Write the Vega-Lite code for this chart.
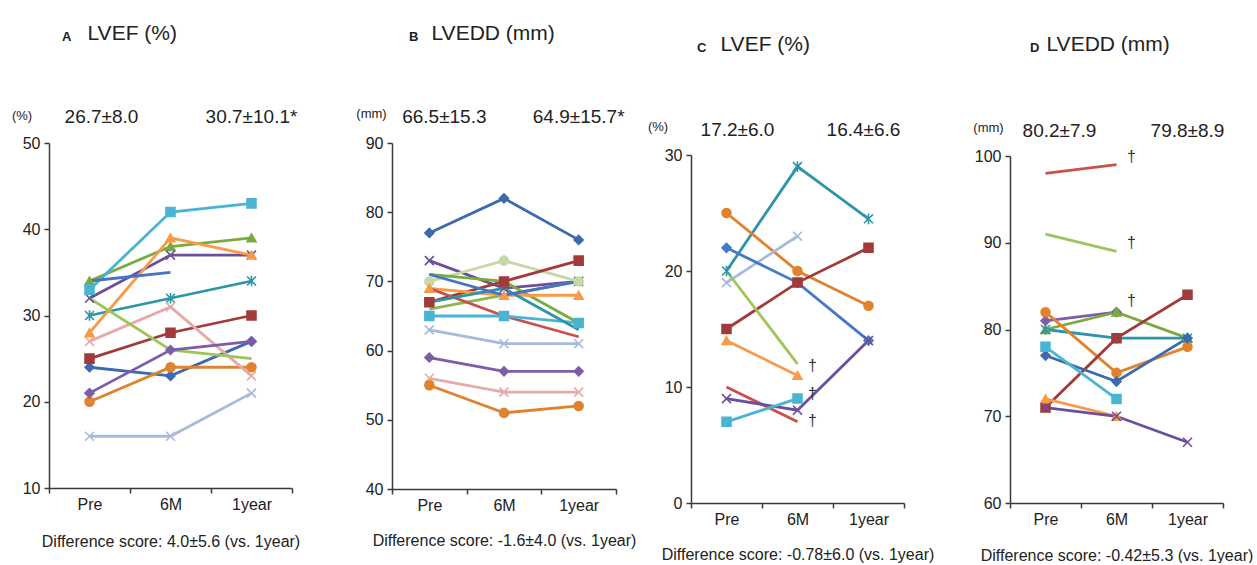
{
  "$schema": "https://vega.github.io/schema/vega-lite/v6.json",
  "padding": {"left": 11, "top": 22, "right": 0, "bottom": 0},
  "background": "white",
  "config": {
    "view": {"stroke": null},
    "font": "Liberation Sans, sans-serif",
    "axis": {
      "grid": false,
      "domainColor": "#3a3a3a",
      "domainWidth": 1.5,
      "tickColor": "#3a3a3a",
      "tickWidth": 1.5,
      "tickSize": 5,
      "labelFont": "Liberation Sans, sans-serif",
      "labelFontSize": 16,
      "labelColor": "#222222",
      "labelFlush": false,
      "labelOverlap": false,
      "labelBound": false,
      "titleFont": "Liberation Sans, sans-serif",
      "titleFontWeight": "normal",
      "titleColor": "#222222"
    },
    "title": {"color": "#222222"}
  },
  "datasets": {
    "A": [
      {"s":"A1","t":"Pre","v":24},{"s":"A1","t":"6M","v":23},{"s":"A1","t":"1year","v":27},
      {"s":"A2","t":"Pre","v":25},{"s":"A2","t":"6M","v":28},{"s":"A2","t":"1year","v":30},
      {"s":"A3","t":"Pre","v":34},{"s":"A3","t":"6M","v":38},{"s":"A3","t":"1year","v":39},
      {"s":"A4","t":"Pre","v":32},{"s":"A4","t":"6M","v":37},{"s":"A4","t":"1year","v":37},
      {"s":"A5","t":"Pre","v":30},{"s":"A5","t":"6M","v":32},{"s":"A5","t":"1year","v":34},
      {"s":"A6","t":"Pre","v":20},{"s":"A6","t":"6M","v":24},{"s":"A6","t":"1year","v":24},
      {"s":"A7","t":"Pre","v":33},{"s":"A7","t":"6M","v":42},{"s":"A7","t":"1year","v":43},
      {"s":"A8","t":"Pre","v":28},{"s":"A8","t":"6M","v":39},{"s":"A8","t":"1year","v":37},
      {"s":"A9","t":"Pre","v":16},{"s":"A9","t":"6M","v":16},{"s":"A9","t":"1year","v":21},
      {"s":"A10","t":"Pre","v":27},{"s":"A10","t":"6M","v":31},{"s":"A10","t":"1year","v":23},
      {"s":"A11","t":"Pre","v":32},{"s":"A11","t":"6M","v":26},{"s":"A11","t":"1year","v":25},
      {"s":"A12","t":"Pre","v":21},{"s":"A12","t":"6M","v":26},{"s":"A12","t":"1year","v":27},
      {"s":"A13","t":"Pre","v":34},{"s":"A13","t":"6M","v":35}
    ],
    "B": [
      {"s":"B1","t":"Pre","v":77},{"s":"B1","t":"6M","v":82},{"s":"B1","t":"1year","v":76},
      {"s":"B2","t":"Pre","v":73},{"s":"B2","t":"6M","v":69},{"s":"B2","t":"1year","v":70},
      {"s":"B3","t":"Pre","v":70},{"s":"B3","t":"6M","v":73},{"s":"B3","t":"1year","v":70},
      {"s":"B4","t":"Pre","v":67},{"s":"B4","t":"6M","v":70},{"s":"B4","t":"1year","v":73},
      {"s":"B5","t":"Pre","v":71},{"s":"B5","t":"6M","v":70},{"s":"B5","t":"1year","v":64},
      {"s":"B6","t":"Pre","v":66},{"s":"B6","t":"6M","v":68},{"s":"B6","t":"1year","v":70},
      {"s":"B7","t":"Pre","v":69},{"s":"B7","t":"6M","v":68},{"s":"B7","t":"1year","v":68},
      {"s":"B8","t":"Pre","v":69},{"s":"B8","t":"6M","v":65},{"s":"B8","t":"1year","v":62},
      {"s":"B9","t":"Pre","v":65},{"s":"B9","t":"6M","v":65},{"s":"B9","t":"1year","v":64},
      {"s":"B10","t":"Pre","v":67},{"s":"B10","t":"6M","v":69},{"s":"B10","t":"1year","v":63},
      {"s":"B11","t":"Pre","v":71},{"s":"B11","t":"6M","v":68},{"s":"B11","t":"1year","v":70},
      {"s":"B12","t":"Pre","v":63},{"s":"B12","t":"6M","v":61},{"s":"B12","t":"1year","v":61},
      {"s":"B13","t":"Pre","v":59},{"s":"B13","t":"6M","v":57},{"s":"B13","t":"1year","v":57},
      {"s":"B14","t":"Pre","v":56},{"s":"B14","t":"6M","v":54},{"s":"B14","t":"1year","v":54},
      {"s":"B15","t":"Pre","v":55},{"s":"B15","t":"6M","v":51},{"s":"B15","t":"1year","v":52}
    ],
    "C": [
      {"s":"C1","t":"Pre","v":20},{"s":"C1","t":"6M","v":29},{"s":"C1","t":"1year","v":24.5},
      {"s":"C2","t":"Pre","v":25},{"s":"C2","t":"6M","v":20},{"s":"C2","t":"1year","v":17},
      {"s":"C3","t":"Pre","v":19},{"s":"C3","t":"6M","v":23},
      {"s":"C4","t":"Pre","v":22},{"s":"C4","t":"6M","v":19},{"s":"C4","t":"1year","v":14},
      {"s":"C5","t":"Pre","v":15},{"s":"C5","t":"6M","v":19},{"s":"C5","t":"1year","v":22},
      {"s":"C6","t":"Pre","v":20},{"s":"C6","t":"6M","v":12},
      {"s":"C7","t":"Pre","v":14},{"s":"C7","t":"6M","v":11},
      {"s":"C8","t":"Pre","v":10},{"s":"C8","t":"6M","v":7},
      {"s":"C9","t":"Pre","v":9},{"s":"C9","t":"6M","v":8},{"s":"C9","t":"1year","v":14},
      {"s":"C10","t":"Pre","v":7},{"s":"C10","t":"6M","v":9}
    ],
    "D": [
      {"s":"D1","t":"Pre","v":98},{"s":"D1","t":"6M","v":99},
      {"s":"D2","t":"Pre","v":91},{"s":"D2","t":"6M","v":89},
      {"s":"D3","t":"Pre","v":81},{"s":"D3","t":"6M","v":82},
      {"s":"D4","t":"Pre","v":80},{"s":"D4","t":"6M","v":82},{"s":"D4","t":"1year","v":79},
      {"s":"D5","t":"Pre","v":80},{"s":"D5","t":"6M","v":79},{"s":"D5","t":"1year","v":79},
      {"s":"D6","t":"Pre","v":82},{"s":"D6","t":"6M","v":75},{"s":"D6","t":"1year","v":78},
      {"s":"D7","t":"Pre","v":71},{"s":"D7","t":"6M","v":79},{"s":"D7","t":"1year","v":84},
      {"s":"D8","t":"Pre","v":77},{"s":"D8","t":"6M","v":74},{"s":"D8","t":"1year","v":79},
      {"s":"D9","t":"Pre","v":78},{"s":"D9","t":"6M","v":72},
      {"s":"D10","t":"Pre","v":72},{"s":"D10","t":"6M","v":70},
      {"s":"D11","t":"Pre","v":71},{"s":"D11","t":"6M","v":70},{"s":"D11","t":"1year","v":67}
    ],
    "Cd": [
      {"t":"6M","v":11.8,"txt":"†"},{"t":"6M","v":9.4,"txt":"†"},{"t":"6M","v":7.1,"txt":"†"}
    ],
    "Dd": [
      {"t":"6M","v":99.9,"txt":"†"},{"t":"6M","v":90,"txt":"†"},{"t":"6M","v":83.3,"txt":"†"}
    ]
  },
  "spacing": 75,
  "bounds": "flush",
  "resolve": {"scale": {"color": "independent", "stroke": "independent", "shape": "independent"}},
  "hconcat": [
    {
      "width": 268, "height": 345,
      "title": {"text": "A", "anchor": "start", "frame": "group", "dx": 13, "offset": -32, "baseline": "alphabetic", "fontSize": 13, "fontWeight": "bold", "font": "Liberation Sans, sans-serif"},
      "resolve": {"axis": {"x": "independent"}},
      "layer": [
        {
          "data": {"name": "A"},
          "mark": {"type": "line", "strokeWidth": 2.8},
          "encoding": {
            "x": {"field": "t", "type": "ordinal", "sort": ["Pre","6M","1year"], "scale": {"type": "band", "paddingInner": 0, "paddingOuter": 0, "range": [0, 243]},
              "axis": {"orient": "bottom", "tickBand": "extent", "labelAngle": 0, "labelPadding": 3, "title": "Difference score: 4.0±5.6 (vs. 1year)", "titleFontSize": 16, "titlePadding": 21}},
            "y": {"field": "v", "type": "quantitative", "scale": {"domain": [10, 50], "nice": false, "zero": false},
              "axis": {"values": [10,20,30,40,50], "labelPadding": 4, "title": "(%)", "titleAngle": 0, "titleFontSize": 13, "titleX": -27.5, "titleY": -28, "titleAlign": "center", "titleBaseline": "middle"}},
            "color": {"field": "s", "type": "nominal", "legend": null, "scale": {"domain": ["A1","A2","A3","A4","A5","A6","A7","A8","A9","A10","A11","A12","A13"], "range": ["#3C69AF","#A33A3A","#7BAA3E","#6B4E9D","#2C96A8","#E0822E","#4AB4D3","#F89B48","#A8B9DC","#E5AAA9","#9DC55A","#7E5CAA","#4574C3"]}}
          }
        },
        {
          "data": {"name": "A"},
          "mark": {"type": "point", "filled": true, "size": 80, "strokeWidth": 1.6, "opacity": 1},
          "encoding": {
            "x": {"field": "t", "type": "ordinal", "sort": ["Pre","6M","1year"],
              "axis": {"orient": "top", "domain": false, "ticks": false, "labelAngle": 0, "labelFontSize": 19, "labelPadding": 17,
                "labelOffset": {"condition": {"test": "datum.value == 'Pre'", "value": 12}, "value": 0},
                "labelExpr": "datum.value == 'Pre' ? '26.7±8.0' : datum.value == '1year' ? '30.7±10.1*' : ''",
                "title": "LVEF (%)", "titleFont": "Liberation Sans, sans-serif", "titleFontSize": 21, "titleX": 38, "titleY": -104, "titleAlign": "left", "titleBaseline": "alphabetic"}},
            "y": {"field": "v", "type": "quantitative"},
            "color": {"field": "s", "type": "nominal", "legend": null, "scale": {"domain": ["A1","A2","A3","A4","A5","A6","A7","A8","A9","A10","A11","A12","A13"], "range": ["#3C69AF","#A33A3A","#7BAA3E","#6B4E9D","#2C96A8","#E0822E","#4AB4D3","#F89B48","#A8B9DC","#E5AAA9","#9DC55A","#7E5CAA","#4574C3"]}},
            "stroke": {"field": "s", "type": "nominal", "legend": null, "scale": {"domain": ["A1","A2","A3","A4","A5","A6","A7","A8","A9","A10","A11","A12","A13"], "range": ["#3C69AF","#A33A3A","#7BAA3E","#6B4E9D","#2C96A8","#E0822E","#4AB4D3","#F89B48","#A8B9DC","#E5AAA9","#9DC55A","#7E5CAA","#4574C3"]}},
            "shape": {"field": "s", "type": "nominal", "legend": null, "scale": {"domain": ["A1","A2","A3","A4","A5","A6","A7","A8","A9","A10","A11","A12","A13"], "range": ["diamond","square","triangle-up","M-1,-1L1,1M-1,1L1,-1","M-1,-1L1,1M-1,1L1,-1M0,-1.2L0,1.2","circle","square","triangle-up","M-1,-1L1,1M-1,1L1,-1","M-1,-1L1,1M-1,1L1,-1","M0,0","diamond","M0,0"]}}
          }
        }
      ]
    },
    {
      "width": 224, "height": 346,
      "title": {"text": "B", "anchor": "start", "frame": "group", "dx": 17, "offset": -32, "baseline": "alphabetic", "fontSize": 13, "fontWeight": "bold", "font": "Liberation Sans, sans-serif"},
      "resolve": {"axis": {"x": "independent"}},
      "layer": [
        {
          "data": {"name": "B"},
          "mark": {"type": "line", "strokeWidth": 2.8},
          "encoding": {
            "x": {"field": "t", "type": "ordinal", "sort": ["Pre","6M","1year"], "scale": {"type": "band", "paddingInner": 0, "paddingOuter": 0, "range": [0, 224]},
              "axis": {"orient": "bottom", "tickBand": "extent", "labelAngle": 0, "labelPadding": 3, "title": "Difference score: -1.6±4.0 (vs. 1year)", "titleFontSize": 16, "titlePadding": 19}},
            "y": {"field": "v", "type": "quantitative", "scale": {"domain": [40, 90], "nice": false, "zero": false},
              "axis": {"values": [40,50,60,70,80,90], "labelPadding": 4, "title": "(mm)", "titleAngle": 0, "titleFontSize": 13, "titleX": -21, "titleY": -30, "titleAlign": "center", "titleBaseline": "middle"}},
            "color": {"field": "s", "type": "nominal", "legend": null, "scale": {"domain": ["B1","B2","B3","B4","B5","B6","B7","B8","B9","B10","B11","B12","B13","B14","B15"], "range": ["#3C69AF","#6B4E9D","#C6D9A6","#A33A3A","#7BAA3E","#8DB64B","#F89B48","#C9504D","#4AB4D3","#2C96A8","#4574C3","#A8B9DC","#7E5CAA","#E5AAA9","#E0822E"]}}
          }
        },
        {
          "data": {"name": "B"},
          "mark": {"type": "point", "filled": true, "size": 80, "strokeWidth": 1.6, "opacity": 1},
          "encoding": {
            "x": {"field": "t", "type": "ordinal", "sort": ["Pre","6M","1year"],
              "axis": {"orient": "top", "domain": false, "ticks": false, "labelAngle": 0, "labelFontSize": 19, "labelPadding": 17,
                "labelOffset": {"condition": {"test": "datum.value == 'Pre'", "value": 15}, "value": 0},
                "labelExpr": "datum.value == 'Pre' ? '66.5±15.3' : datum.value == '1year' ? '64.9±15.7*' : ''",
                "title": "LVEDD (mm)", "titleFont": "Liberation Sans, sans-serif", "titleFontSize": 21, "titleX": 39, "titleY": -104, "titleAlign": "left", "titleBaseline": "alphabetic"}},
            "y": {"field": "v", "type": "quantitative"},
            "color": {"field": "s", "type": "nominal", "legend": null, "scale": {"domain": ["B1","B2","B3","B4","B5","B6","B7","B8","B9","B10","B11","B12","B13","B14","B15"], "range": ["#3C69AF","#6B4E9D","#C6D9A6","#A33A3A","#7BAA3E","#8DB64B","#F89B48","#C9504D","#4AB4D3","#2C96A8","#4574C3","#A8B9DC","#7E5CAA","#E5AAA9","#E0822E"]}},
            "stroke": {"field": "s", "type": "nominal", "legend": null, "scale": {"domain": ["B1","B2","B3","B4","B5","B6","B7","B8","B9","B10","B11","B12","B13","B14","B15"], "range": ["#3C69AF","#6B4E9D","#C6D9A6","#A33A3A","#7BAA3E","#8DB64B","#F89B48","#C9504D","#4AB4D3","#2C96A8","#4574C3","#A8B9DC","#7E5CAA","#E5AAA9","#E0822E"]}},
            "shape": {"field": "s", "type": "nominal", "legend": null, "scale": {"domain": ["B1","B2","B3","B4","B5","B6","B7","B8","B9","B10","B11","B12","B13","B14","B15"], "range": ["diamond","M-1,-1L1,1M-1,1L1,-1","circle","square","M0,0","M0,0","triangle-up","M0,0","square","M0,0","M0,0","M-1,-1L1,1M-1,1L1,-1","diamond","M-1,-1L1,1M-1,1L1,-1","circle"]}}
          }
        }
      ]
    },
    {
      "width": 244, "height": 360,
      "title": {"text": "C", "anchor": "start", "frame": "group", "dx": 6, "offset": -32, "baseline": "alphabetic", "fontSize": 13, "fontWeight": "bold", "font": "Liberation Sans, sans-serif"},
      "resolve": {"axis": {"x": "independent"}},
      "layer": [
        {
          "data": {"name": "C"},
          "mark": {"type": "line", "strokeWidth": 2.8},
          "encoding": {
            "x": {"field": "t", "type": "ordinal", "sort": ["Pre","6M","1year"], "scale": {"type": "band", "paddingInner": 0, "paddingOuter": 0, "range": [0, 213]},
              "axis": {"orient": "bottom", "tickBand": "extent", "labelAngle": 0, "labelPadding": 3, "title": "Difference score: -0.78±6.0 (vs. 1year)", "titleFontSize": 16, "titlePadding": 19}},
            "y": {"field": "v", "type": "quantitative", "scale": {"domain": [0, 30], "nice": false, "zero": false, "range": [360, 12]},
              "axis": {"values": [0,10,20,30], "labelPadding": 4, "title": "(%)", "titleAngle": 0, "titleFontSize": 13, "titleX": -33.5, "titleY": -17, "titleAlign": "center", "titleBaseline": "middle"}},
            "color": {"field": "s", "type": "nominal", "legend": null, "scale": {"domain": ["C1","C2","C3","C4","C5","C6","C7","C8","C9","C10"], "range": ["#2C96A8","#E0822E","#A8B9DC","#4479C5","#A33A3A","#9DC55A","#F89B48","#C9504D","#6B4E9D","#4AB4D3"]}}
          }
        },
        {
          "data": {"name": "C"},
          "mark": {"type": "point", "filled": true, "size": 80, "strokeWidth": 1.6, "opacity": 1},
          "encoding": {
            "x": {"field": "t", "type": "ordinal", "sort": ["Pre","6M","1year"],
              "axis": {"orient": "top", "domain": false, "ticks": false, "labelAngle": 0, "labelFontSize": 19, "labelPadding": 4,
                "labelOffset": {"condition": [{"test": "datum.value == 'Pre'", "value": 11}, {"test": "datum.value == '1year'", "value": -5}], "value": 0},
                "labelExpr": "datum.value == 'Pre' ? '17.2±6.0' : datum.value == '1year' ? '16.4±6.6' : ''",
                "title": "LVEF (%)", "titleFont": "Liberation Sans, sans-serif", "titleFontSize": 21, "titleX": 29, "titleY": -93, "titleAlign": "left", "titleBaseline": "alphabetic"}},
            "y": {"field": "v", "type": "quantitative"},
            "color": {"field": "s", "type": "nominal", "legend": null, "scale": {"domain": ["C1","C2","C3","C4","C5","C6","C7","C8","C9","C10"], "range": ["#2C96A8","#E0822E","#A8B9DC","#4479C5","#A33A3A","#9DC55A","#F89B48","#C9504D","#6B4E9D","#4AB4D3"]}},
            "stroke": {"field": "s", "type": "nominal", "legend": null, "scale": {"domain": ["C1","C2","C3","C4","C5","C6","C7","C8","C9","C10"], "range": ["#2C96A8","#E0822E","#A8B9DC","#4479C5","#A33A3A","#9DC55A","#F89B48","#C9504D","#6B4E9D","#4AB4D3"]}},
            "shape": {"field": "s", "type": "nominal", "legend": null, "scale": {"domain": ["C1","C2","C3","C4","C5","C6","C7","C8","C9","C10"], "range": ["M-1,-1L1,1M-1,1L1,-1M0,-1.2L0,1.2","circle","M-1,-1L1,1M-1,1L1,-1","diamond","square","M0,0","triangle-up","M0,0","M-1,-1L1,1M-1,1L1,-1","square"]}}
          }
        },
        {
          "data": {"name": "Cd"},
          "mark": {"type": "text", "dx": 15, "fontSize": 16, "color": "#333333", "align": "center", "baseline": "middle"},
          "encoding": {
            "x": {"field": "t", "type": "ordinal", "sort": ["Pre","6M","1year"], "axis": null},
            "y": {"field": "v", "type": "quantitative"},
            "text": {"field": "txt"}
          }
        }
      ]
    },
    {
      "width": 213, "height": 360,
      "title": {"text": "D", "anchor": "start", "frame": "group", "dx": 20, "offset": -32, "baseline": "alphabetic", "fontSize": 13, "fontWeight": "bold", "font": "Liberation Sans, sans-serif"},
      "resolve": {"axis": {"x": "independent"}},
      "layer": [
        {
          "data": {"name": "D"},
          "mark": {"type": "line", "strokeWidth": 2.8},
          "encoding": {
            "x": {"field": "t", "type": "ordinal", "sort": ["Pre","6M","1year"], "scale": {"type": "band", "paddingInner": 0, "paddingOuter": 0, "range": [0, 213]},
              "axis": {"orient": "bottom", "tickBand": "extent", "labelAngle": 0, "labelPadding": 3, "title": "Difference score: -0.42±5.3 (vs. 1year)", "titleFontSize": 16, "titlePadding": 20}},
            "y": {"field": "v", "type": "quantitative", "scale": {"domain": [60, 100], "nice": false, "zero": false, "range": [360, 13]},
              "axis": {"values": [60,70,80,90,100], "labelPadding": 4, "title": "(mm)", "titleAngle": 0, "titleFontSize": 13, "titleX": -22, "titleY": -15.5, "titleAlign": "center", "titleBaseline": "middle"}},
            "color": {"field": "s", "type": "nominal", "legend": null, "scale": {"domain": ["D1","D2","D3","D4","D5","D6","D7","D8","D9","D10","D11"], "range": ["#C9504D","#9DC55A","#7E5CAA","#7BAA3E","#2C96A8","#E0822E","#A33A3A","#3C69AF","#4AB4D3","#F89B48","#6B4E9D"]}}
          }
        },
        {
          "data": {"name": "D"},
          "mark": {"type": "point", "filled": true, "size": 80, "strokeWidth": 1.6, "opacity": 1},
          "encoding": {
            "x": {"field": "t", "type": "ordinal", "sort": ["Pre","6M","1year"],
              "axis": {"orient": "top", "domain": false, "ticks": false, "labelAngle": 0, "labelFontSize": 19, "labelPadding": 3,
                "labelOffset": {"condition": {"test": "datum.value == 'Pre'", "value": 14}, "value": 0},
                "labelExpr": "datum.value == 'Pre' ? '80.2±7.9' : datum.value == '1year' ? '79.8±8.9' : ''",
                "title": "LVEDD (mm)", "titleFont": "Liberation Sans, sans-serif", "titleFontSize": 21, "titleX": 36, "titleY": -93, "titleAlign": "left", "titleBaseline": "alphabetic"}},
            "y": {"field": "v", "type": "quantitative"},
            "color": {"field": "s", "type": "nominal", "legend": null, "scale": {"domain": ["D1","D2","D3","D4","D5","D6","D7","D8","D9","D10","D11"], "range": ["#C9504D","#9DC55A","#7E5CAA","#7BAA3E","#2C96A8","#E0822E","#A33A3A","#3C69AF","#4AB4D3","#F89B48","#6B4E9D"]}},
            "stroke": {"field": "s", "type": "nominal", "legend": null, "scale": {"domain": ["D1","D2","D3","D4","D5","D6","D7","D8","D9","D10","D11"], "range": ["#C9504D","#9DC55A","#7E5CAA","#7BAA3E","#2C96A8","#E0822E","#A33A3A","#3C69AF","#4AB4D3","#F89B48","#6B4E9D"]}},
            "shape": {"field": "s", "type": "nominal", "legend": null, "scale": {"domain": ["D1","D2","D3","D4","D5","D6","D7","D8","D9","D10","D11"], "range": ["M0,0","M0,0","diamond","triangle-up","M-1,-1L1,1M-1,1L1,-1M0,-1.2L0,1.2","circle","square","diamond","square","triangle-up","M-1,-1L1,1M-1,1L1,-1"]}}
          }
        },
        {
          "data": {"name": "Dd"},
          "mark": {"type": "text", "dx": 15, "fontSize": 16, "color": "#333333", "align": "center", "baseline": "middle"},
          "encoding": {
            "x": {"field": "t", "type": "ordinal", "sort": ["Pre","6M","1year"], "axis": null},
            "y": {"field": "v", "type": "quantitative"},
            "text": {"field": "txt"}
          }
        }
      ]
    }
  ]
}
